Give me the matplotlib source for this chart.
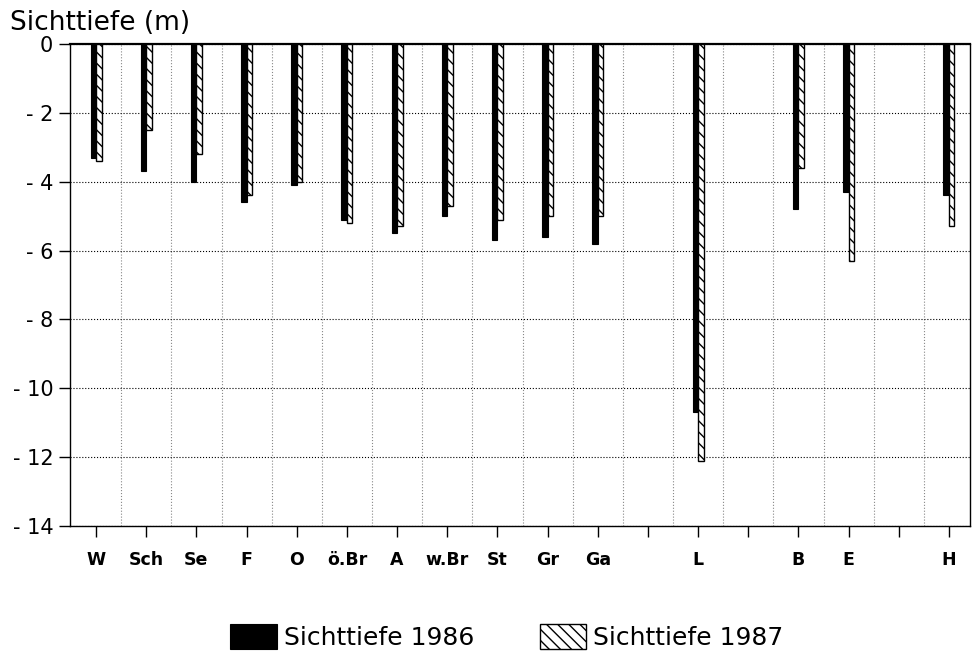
import matplotlib

matplotlib.use("Agg")
import matplotlib.pyplot as plt
import numpy as np

# station labels on the x axis (empty slots are spacer ticks)
stations = ["W", "Sch", "Se", "F", "O", "ö.Br", "A", "w.Br", "St", "Gr", "Ga",
            "", "L", "", "B", "E", "", "H"]
# Secchi depth (m); None = no bar at that slot
depth_1986 = [-3.3, -3.7, -4.0, -4.6, -4.1, -5.1, -5.5, -5.0, -5.7, -5.6, -5.8,
              None, -10.7, None, -4.8, -4.3, None, -4.4]
depth_1987 = [-3.4, -2.5, -3.2, -4.4, -4.0, -5.2, -5.3, -4.7, -5.1, -5.0, -5.0,
              None, -12.1, None, -3.6, -6.3, None, -5.3]
yticks = [0, -2, -4, -6, -8, -10, -12, -14]

plt.rcParams["hatch.linewidth"] = 1.0
fig = plt.figure(figsize=(9.75, 6.53), dpi=100)
ax = fig.add_axes([0.0718, 0.1945, 0.9231, 0.7381])

x = np.arange(len(stations))
idx86 = [i for i, v in enumerate(depth_1986) if v is not None]
idx87 = [i for i, v in enumerate(depth_1987) if v is not None]
w = 0.11
ax.bar(x[idx86] - w / 2, [depth_1986[i] for i in idx86], width=w,
       color="black", edgecolor="black", lw=0.8, zorder=3, label="Sichttiefe 1986")
ax.bar(x[idx87] + w / 2, [depth_1987[i] for i in idx87], width=w,
       color="white", edgecolor="black", hatch="\\\\\\", lw=1.0, zorder=3,
       label="Sichttiefe 1987")

ax.set_xlim(-0.52, 17.42)
ax.set_ylim(-14, 0)
ax.set_yticks(yticks)
ax.set_yticklabels([str(t).replace("-", "- ") if t else "0" for t in yticks],
                   fontsize=15)
ax.set_xticks(x)
ax.set_xticklabels(stations, fontsize=12.5, fontweight="bold")
ax.set_xticks(x[:-1] + 0.5, minor=True)
ax.tick_params(axis="x", which="major", direction="out", length=8, width=1,
               pad=10)
ax.tick_params(axis="x", which="minor", length=0)
ax.tick_params(axis="y", direction="out", length=8, width=1, pad=4)

ax.grid(axis="y", which="major", ls=":", color="black", lw=0.8, zorder=0)
ax.grid(axis="x", which="minor", ls=":", color="#888888", lw=0.8, zorder=0)
for s in ax.spines.values():
    s.set_color("black")
    s.set_linewidth(1.0)
ax.spines["top"].set_linewidth(1.6)

fig.text(0.010, 0.945, "Sichttiefe (m)", fontsize=19, ha="left", va="bottom")

fig.legend(loc="center", bbox_to_anchor=(0.52, 0.025), ncol=2,
           frameon=False, fontsize=18, handlelength=1.85, handleheight=1.15,
           columnspacing=2.6, handletextpad=0.3)

fig.savefig("out.png", dpi=100)
